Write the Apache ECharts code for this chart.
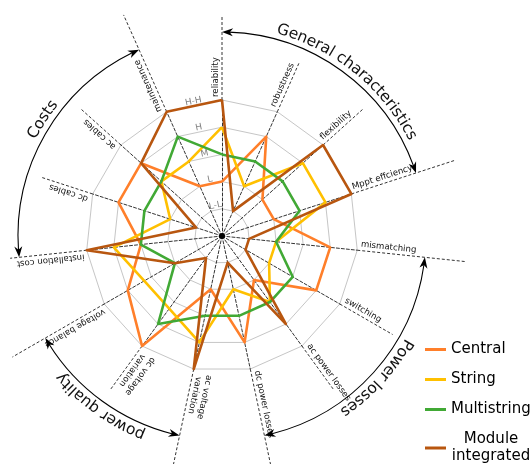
<!DOCTYPE html>
<html><head><meta charset="utf-8">
<script src="https://cdn.jsdelivr.net/npm/echarts@6/dist/echarts.min.js"></script>
<style>html,body{margin:0;padding:0;background:#fff}#c{width:531px;height:464px}</style>
</head><body><div id="c"></div>
<script>
// ---- data (axes listed clockwise from the top) ----
const categories = ['reliability','robustness','flexibility','Mppt effciency','mismatching','switching','ac power losses','dc power losses','ac voltage variation','dc voltage variation','voltage balance','installation cost','dc cables','ac cables','maintenance'];
const levelLabels = ['L-L','L','M','H','H-H'];
const seriesNames = ['Central','String','Multistring','Module integrated'];
const central          = [2,4,2,2,4,4,2,4,2,5,4,3,4,4,2];
const string           = [4,2,4,4,2,2,3,2,4,3.3,3.3,4,2,3,3];
const multistring      = [3,3,3,3,2,3,3,3,3,4,2,3,3,3,4];
const moduleIntegrated = [5,1,5,5,1,1,4,1,5,1,2,5,1,4,5];
const groupNames = ['General characteristics','Power losses','power quality','Costs'];
const groupFrom = [0,4,8,11];
const groupTo   = [3,7,10,14];

// ---- layout / style ----
const CX = 222, CY = 236, R = 136;
const colors = ['#ff7f2a','#ffc000','#41a935','#b8560f'];
const FONT = '"DejaVu Sans", Verdana, sans-serif';
const axisExt = [221,190,190,244,245,197,190,240,240,190,242,213,190,190,242];
const labelDisplay = categories.map(c => c === 'ac voltage variation' ? 'ac voltage\nvariation' : c === 'dc voltage variation' ? 'dc voltage\nvariation' : c);
const groupTextAngle = [51, -42.5, -125.5, 147];
const RA = 204, RT = 214;

const values = [central, string, multistring, moduleIntegrated];
const N = categories.length;
const step = 360 / N;
// ECharts radar lays indicators out counter-clockwise; reorder
const order = [0]; for (let i = N - 1; i >= 1; i--) order.push(i);

const cv = document.createElement('canvas').getContext('2d');
function measure(t, size) { cv.font = size + 'px ' + FONT; return cv.measureText(t).width; }
const deg = Math.PI / 180;
function pt(r, th) { return [CX + r * Math.cos(th * deg), CY - r * Math.sin(th * deg)]; }
function thetaOf(k) { return 90 - step * k; }

const graphics = [];
// extended dashed axis lines
for (let k = 0; k < N; k++) {
  const a = pt(R, thetaOf(k)), b = pt(axisExt[k], thetaOf(k));
  graphics.push({type:'line', silent:true, shape:{x1:a[0],y1:a[1],x2:b[0],y2:b[1]}, style:{stroke:'#000', lineWidth:0.8, lineDash:[3,2]}});
}
// axis names along the axes
const LSIZE = 8.6;
for (let k = 0; k < N; k++) {
  const th = thetaOf(k) * deg;
  const lines = labelDisplay[k].split('\n');
  const w = Math.max(...lines.map(l => measure(l, LSIZE)));
  const rc = 139 + w / 2, off = 1.2;
  const x = CX + rc * Math.cos(th) - off * Math.sin(th);
  const y = CY - rc * Math.sin(th) - off * Math.cos(th);
  graphics.push({type:'text', silent:true, x, y, rotation: th, style:{text: labelDisplay[k], font: LSIZE + 'px ' + FONT, fill:'#111', align:'center', verticalAlign:'bottom', textAlign:'center', textVerticalAlign:'bottom', lineHeight: 10}});
}
// level labels between the first and last axis
for (let i = 0; i < levelLabels.length; i++) {
  const rr = (i + 1) * R / 5 * Math.cos(step / 2 * deg) + 4.5;
  const p = pt(rr, 90 + step / 2);
  graphics.push({type:'text', silent:true, x:p[0], y:p[1], rotation: step / 2 * deg, style:{text: levelLabels[i], font:'9px ' + FONT, fill:'#808080', align:'center', verticalAlign:'middle', textAlign:'center', textVerticalAlign:'middle'}});
}
// group arcs with arrowheads and curved titles
function arrow(thTip, dir) {
  const L = 11, W = 4;
  const thBase = thTip + dir * (L / RA) / deg;
  const tip = pt(RA, thTip), b1 = pt(RA + W, thBase), b2 = pt(RA - W, thBase);
  const notch = pt(RA, thTip + dir * (L * 0.7 / RA) / deg);
  graphics.push({type:'polygon', silent:true, shape:{points:[tip, b1, notch, b2]}, style:{fill:'#000'}});
}
const GSIZE = 15.5;
for (let g = 0; g < groupNames.length; g++) {
  const t1 = thetaOf(groupFrom[g]), t2 = thetaOf(groupTo[g]);
  const shorten = 7 / RA / deg;
  graphics.push({type:'arc', silent:true, shape:{cx:CX, cy:CY, r:RA, startAngle: -(t1 - shorten) * deg, endAngle: -(t2 + shorten) * deg, clockwise:true}, style:{stroke:'#000', lineWidth:1.1, fill:null}});
  arrow(t1, -1);
  arrow(t2, 1);
  const text = groupNames[g];
  const ws = [...text].map(c => measure(c, GSIZE));
  const W = ws.reduce((a, b) => a + b, 0);
  let cum = 0;
  const thStart = groupTextAngle[g] + (W / 2) / RT / deg;
  [...text].forEach((c, i) => {
    const thc = thStart - (cum + ws[i] / 2) / RT / deg;
    cum += ws[i];
    if (c === ' ') return;
    const p = pt(RT, thc);
    graphics.push({type:'text', silent:true, x:p[0], y:p[1], rotation:(thc - 90) * deg, style:{text:c, font: GSIZE + 'px ' + FONT, fill:'#111', align:'center', verticalAlign:'middle', textAlign:'center', textVerticalAlign:'middle'}});
  });
}
graphics.push({type:'circle', silent:true, shape:{cx:CX, cy:CY, r:3}, style:{fill:'#000'}, z:100});

const chart = echarts.init(document.getElementById('c'), null, {renderer:'canvas'});
chart.setOption({
  animation:false,
  backgroundColor:'#fff',
  legend:{
    orient:'vertical', left:425, top:342, height:160, padding:0,
    itemWidth:21, itemHeight:3, itemGap:15, icon:'rect',
    selectedMode:false,
    data: seriesNames,
    formatter: n => n === 'Module integrated' ? '{c|Module}\n{c|integrated}' : n,
    textStyle:{fontFamily:FONT, fontSize:15, color:'#000', rich:{c:{width:80, align:'center', fontSize:15, lineHeight:17, fontFamily:FONT, color:'#000'}}}
  },
  radar:{
    center:[CX, CY], radius:R, startAngle:90, shape:'polygon', splitNumber:5,
    indicator: order.map(i => ({name: categories[i], min:0, max:5})),
    axisName:{show:false},
    axisLine:{lineStyle:{color:'#000', type:[3,2], width:0.8}},
    axisTick:{show:false}, axisLabel:{show:false},
    splitLine:{lineStyle:{color:'#c6c6c6', width:1}},
    splitArea:{show:false}
  },
  series:[{
    type:'radar', symbol:'none', silent:true,
    data: seriesNames.map((n, si) => ({
      name:n, value: order.map(i => values[si][i]),
      lineStyle:{color:colors[si], width:2.6}, itemStyle:{color:colors[si]}
    }))
  }],
  graphic: graphics
});
</script></body></html>
